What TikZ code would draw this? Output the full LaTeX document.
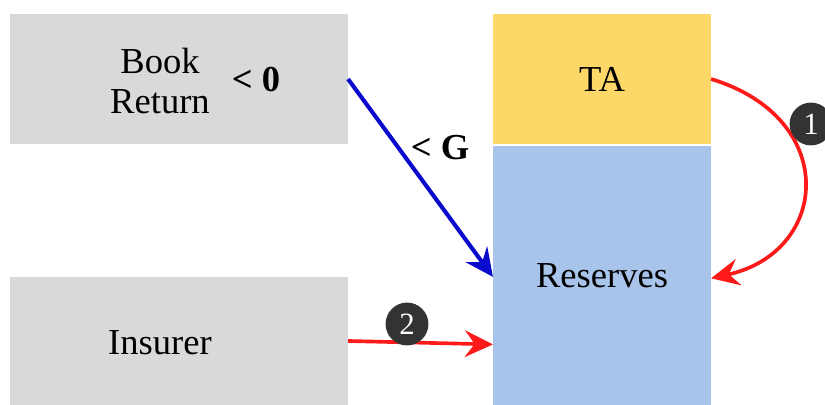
\documentclass[tikz,border=0pt]{standalone}
\usepackage{fontspec}
\setmainfont{Liberation Serif}
\usetikzlibrary{arrows.meta}
\definecolor{boxgray}{HTML}{D9D9D9}
\definecolor{tayellow}{HTML}{FDD868}
\definecolor{resblue}{HTML}{A9C4EB}
\definecolor{flowred}{HTML}{FF1A1A}
\definecolor{flowblue}{HTML}{0A0ACC}
\definecolor{badgegray}{HTML}{333333}
\tikzset{
	block/.style={inner sep=0pt, outer sep=0pt, font=\fontsize{26}{30}\selectfont},
	lbl/.style={inner sep=0pt, align=center, font=\fontsize{26}{29}\selectfont},
	badge/.style={circle, fill=badgegray, text=white, minimum size=1.07cm, inner sep=0pt, font=\fontsize{22}{24}\selectfont},
	redflow/.style={draw=flowred, line width=2.6pt, -{Stealth[length=20pt, width=19pt, inset=7pt]}},
	blueflow/.style={draw=flowblue, line width=2.9pt, -{Stealth[length=20pt, width=19pt, inset=7pt]}}
}
\begin{document}
\begin{tikzpicture}[x=0.025cm, y=-0.025cm]
			\useasboundingbox (0,0) rectangle (825,405);
			\node[block, fill=boxgray, minimum width=8.45cm, minimum height=3.25cm] (book) at (179,79) {};
			\node[block, fill=boxgray, minimum width=8.45cm, minimum height=3.2cm] (insurer) at (179,341) {};
			\node[block, fill=tayellow, minimum width=5.45cm, minimum height=3.25cm] (ta) at (602,79) {TA};
			\node[block, fill=resblue, minimum width=5.45cm, minimum height=6.48cm] (reserves) at (602,275.5) {Reserves};
			\node[lbl] (booktext) at (160,81) {Book\\Return};
			\node[lbl] (booklt) at (256,80) {\textbf{< 0}};
			\node[lbl] (insurertext) at (160,343) {Insurer};
			\node[lbl] (gainlt) at (440,148) {\textbf{< G}};
			\draw[blueflow] (book.east) -- ([yshift=-1pt]reserves.west);
			\draw[redflow] (ta.east) .. controls (840,118) and (830,252) .. ([yshift=-2pt]reserves.east);
			\draw[redflow] (insurer.east) -- ([yshift=-49pt]reserves.west);
			\node[badge] (one) at (811,124) {1};
			\node[badge] (two) at (407,324) {2};
		\end{tikzpicture}
\end{document}
